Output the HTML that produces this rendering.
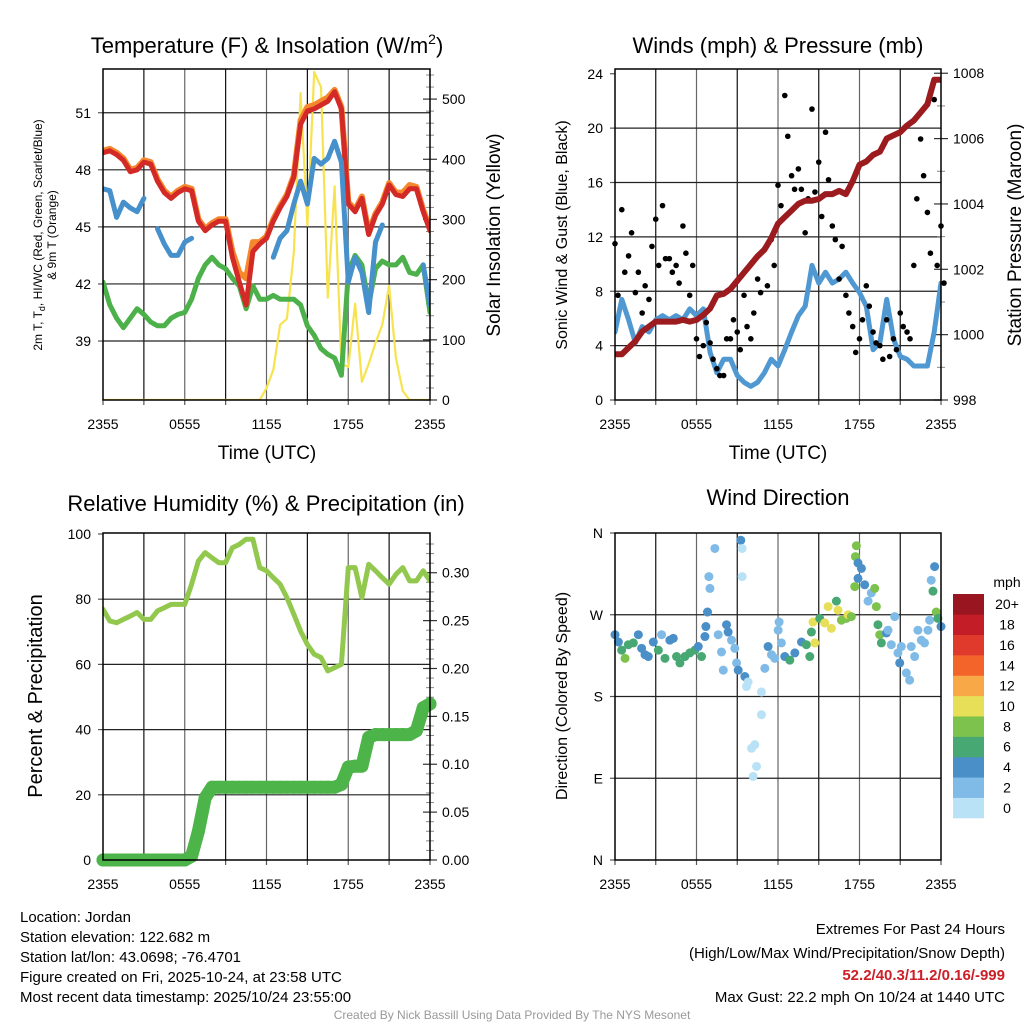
<!DOCTYPE html>
<html><head><meta charset="utf-8">
<style>
html,body{margin:0;padding:0;background:#fff;}
svg{display:block;font-family:"Liberation Sans",Arial,sans-serif;}
</style></head>
<body>
<svg id="chart" width="1024" height="1024" viewBox="0 0 1024 1024" xmlns="http://www.w3.org/2000/svg">
<rect x="0" y="0" width="1024" height="1024" fill="#fff"/>
<g id="p1"></g>
<g id="p2"></g>
<g id="p3"></g>
<g id="p4"></g>
<g id="cb"></g>

<text x="267" y="53" font-size="22" text-anchor="middle">Temperature (F) &amp; Insolation (W/m<tspan dy="-9" font-size="14">2</tspan><tspan dy="9">)</tspan></text>
<text x="778" y="53" font-size="22" text-anchor="middle">Winds (mph) &amp; Pressure (mb)</text>
<text x="266" y="511" font-size="22" text-anchor="middle">Relative Humidity (%) &amp; Precipitation (in)</text>
<text x="778" y="505" font-size="22" text-anchor="middle">Wind Direction</text>

<text transform="translate(42,235) rotate(-90)" font-size="12" text-anchor="middle">2m T, T<tspan dy="3" font-size="9">d</tspan><tspan dy="-3">, HI/WC (Red, Green, Scarlet/Blue)</tspan></text>
<text transform="translate(56,235) rotate(-90)" font-size="12" text-anchor="middle">&amp; 9m T (Orange)</text>
<text transform="translate(500,235) rotate(-90)" font-size="19" text-anchor="middle">Solar Insolation (Yellow)</text>
<text x="267" y="459" font-size="19" text-anchor="middle">Time (UTC)</text>
<text transform="translate(567,235) rotate(-90)" font-size="16" text-anchor="middle">Sonic Wind &amp; Gust (Blue, Black)</text>
<text transform="translate(1021,235) rotate(-90)" font-size="19" text-anchor="middle">Station Pressure (Maroon)</text>
<text x="778" y="459" font-size="19" text-anchor="middle">Time (UTC)</text>
<text transform="translate(42,696) rotate(-90)" font-size="20" text-anchor="middle">Percent &amp; Precipitation</text>
<text transform="translate(567,696) rotate(-90)" font-size="16" text-anchor="middle">Direction (Colored By Speed)</text>
<text x="1007" y="587" font-size="14" text-anchor="middle">mph</text>

<g font-size="15">
<text x="20" y="922">Location: Jordan</text>
<text x="20" y="942">Station elevation: 122.682 m</text>
<text x="20" y="962">Station lat/lon: 43.0698; -76.4701</text>
<text x="20" y="982">Figure created on Fri, 2025-10-24, at 23:58 UTC</text>
<text x="20" y="1002">Most recent data timestamp: 2025/10/24 23:55:00</text>
</g>
<g font-size="15" text-anchor="end">
<text x="1005" y="934">Extremes For Past 24 Hours</text>
<text x="1005" y="958">(High/Low/Max Wind/Precipitation/Snow Depth)</text>
<text x="1005" y="980" fill="#cc1f27" font-weight="bold">52.2/40.3/11.2/0.16/-999</text>
<text x="1005" y="1002">Max Gust: 22.2 mph On 10/24 at 1440 UTC</text>
</g>
<text x="512" y="1019" font-size="12" fill="#999" text-anchor="middle">Created By Nick Bassill Using Data Provided By The NYS Mesonet</text>
</svg>
<script>
// ---- data (half-hourly, index i -> hour i/2 after 2355 UTC) ----
const xTickLabels = ["2355","0555","1155","1755","2355"];
const tempRed = [48.9,49.0,48.8,48.5,47.9,48.0,48.4,48.3,47.4,46.8,46.5,46.8,47.0,46.9,45.3,44.8,45.1,45.3,45.3,43.4,42.1,40.9,43.7,44.1,44.4,45.3,46.0,46.6,47.6,50.4,51.1,51.2,51.4,51.6,52.1,51.2,46.2,45.8,46.5,44.6,45.6,46.2,47.2,46.7,46.6,47.0,47.0,45.8,44.8];
const tempOrange = [49.0,49.1,48.9,48.6,48.0,48.1,48.5,48.4,47.5,46.9,46.6,46.9,47.1,47.0,45.4,44.9,45.2,45.4,45.4,43.7,42.6,42.3,44.2,44.2,44.5,45.4,46.1,46.7,47.7,50.6,51.3,51.4,51.6,51.8,52.2,51.3,46.3,45.9,46.6,44.7,45.7,46.3,47.3,46.8,46.8,47.2,47.1,45.9,44.9];
const tempBlue = [47.0,46.9,45.5,46.3,46.0,45.8,46.5,null,44.9,44.1,43.5,43.5,44.2,44.4,null,null,43.2,null,null,null,null,null,41.2,null,null,43.4,44.4,44.8,46.2,47.4,46.2,48.6,48.3,48.6,49.5,48.4,42.1,43.4,42.6,40.5,44.2,45.1,null,null,null,null,null,43.0,40.9];
const tempGreen = [42.1,40.9,40.2,39.7,40.2,40.7,40.4,40.0,39.8,39.8,40.2,40.4,40.5,41.2,42.3,43.0,43.4,43.0,42.8,42.3,41.9,40.7,41.9,41.2,41.2,41.4,41.2,41.2,41.2,40.9,39.8,39.3,38.6,38.3,38.1,37.2,42.6,43.5,43.0,40.9,42.8,43.2,43.0,43.0,43.4,42.6,42.5,43.0,40.5];
const solar = [0,0,0,0,0,0,0,0,0,0,0,0,0,0,0,0,0,0,0,0,0,0,0,0,20,50,125,135,245,510,290,545,520,170,355,60,55,160,30,60,95,125,190,70,15,0,0,0,0];
const windSpeed = [5.0,7.4,5.9,4.2,5.4,5.0,5.9,6.2,5.9,6.2,5.9,6.7,6.2,6.7,3.5,2.0,3.0,3.0,1.8,1.3,1.0,1.3,2.0,3.0,2.5,3.7,5.0,6.2,6.9,9.9,8.6,9.4,8.6,8.9,9.4,8.6,7.9,6.9,3.7,4.2,7.4,4.5,3.2,3.0,2.5,2.5,2.5,5.0,8.6];
const gustA = [11.5,14.0,10.6,7.9,6.4,7.4,13.3,14.3,10.4,9.9,12.8,7.7,4.5,4.0,4.2,2.3,1.8,4.5,5.0,7.7,4.5,8.9,11.1,11.8,15.8,22.4,16.5,17.0,12.3,21.4,17.5,19.7,12.8,8.9,7.7,5.4,4.5,8.4,5.0,4.0,5.9,4.5,6.4,5.0,9.9,19.2,13.8,22.1,12.8];
const gustB = [7.7,9.4,12.3,9.4,8.4,11.3,9.9,10.4,9.4,8.6,10.8,9.9,3.2,5.7,3.0,1.8,4.5,5.9,3.7,5.4,6.4,7.9,8.4,9.9,14.3,19.4,15.5,15.5,14.8,15.3,13.5,16.2,11.8,11.3,6.4,3.5,5.9,6.9,4.2,3.0,3.2,3.7,5.4,4.5,14.8,16.5,10.8,9.9,8.6];
const pressure = [999.4,999.4,999.6,999.8,1000.1,1000.25,1000.4,1000.4,1000.4,1000.4,1000.45,1000.4,1000.45,1000.6,1000.8,1001.2,1001.25,1001.4,1001.65,1001.9,1002.15,1002.4,1002.6,1002.95,1003.4,1003.6,1003.8,1004.0,1004.1,1004.1,1004.15,1004.3,1004.3,1004.4,1004.3,1004.7,1005.2,1005.3,1005.5,1005.6,1006.0,1006.1,1006.2,1006.4,1006.55,1006.8,1007.05,1007.8,1007.8];
const rh = [76.9,73.3,72.8,73.8,74.8,75.9,73.8,73.8,76.4,77.4,78.4,78.4,78.4,84.6,91.7,94.3,92.7,91.2,91.2,95.8,96.8,98.4,98.4,89.7,88.7,86.6,84.6,80.5,75.4,70.2,66.1,63.1,62.1,58.0,59.0,60.0,89.7,89.7,80.5,90.7,88.7,86.6,84.6,87.6,89.7,85.6,85.6,88.7,85.6];
const precip = [0,0,0,0,0,0,0,0,0,0,0,0,0,0.004,0.03,0.065,0.076,0.076,0.076,0.076,0.076,0.076,0.076,0.076,0.076,0.076,0.076,0.076,0.076,0.076,0.076,0.076,0.076,0.076,0.076,0.079,0.097,0.098,0.098,0.128,0.131,0.131,0.131,0.131,0.131,0.131,0.135,0.159,0.163];
const dirHour = [0.0,0.25,0.49,0.74,0.98,1.35,1.72,1.96,2.21,2.45,2.82,3.19,3.43,3.68,4.04,4.29,4.53,4.78,5.15,5.51,5.88,6.13,6.37,6.62,6.69,6.81,6.91,6.99,7.35,7.60,7.84,7.97,8.21,8.33,8.58,8.82,8.95,9.07,9.26,9.36,9.36,9.56,9.68,9.80,10.05,10.29,10.42,10.17,10.78,10.78,11.03,11.27,11.52,11.76,12.01,12.08,12.25,12.50,12.87,13.24,13.73,14.09,14.34,14.46,14.58,14.71,15.07,15.44,15.69,15.93,16.30,16.42,16.67,17.03,17.16,17.40,17.77,17.70,17.89,18.14,17.89,17.65,18.38,18.63,18.87,19.12,19.24,19.36,19.49,19.61,19.98,20.10,20.34,20.59,20.83,20.96,21.08,21.45,21.69,21.81,22.06,22.30,22.55,22.79,23.04,23.16,23.28,23.41,23.53,23.65,23.77,24.0];
const dirDeg = [248,240,231,222,237,239,248,233,226,224,240,231,248,222,242,244,224,217,224,228,231,235,224,246,257,273,312,299,343,248,229,209,259,251,242,233,217,209,352,343,312,202,191,196,123,127,103,92,185,160,211,235,226,222,253,262,239,224,220,228,240,237,224,251,262,239,266,261,279,255,285,275,264,266,270,268,346,334,327,321,310,301,303,285,294,299,279,259,248,239,250,253,237,268,228,217,235,206,198,235,224,253,242,239,253,264,308,296,323,273,266,257];
const dirSpd = [4,4,6,8,6,6,4,4,4,4,4,6,3,6,4,4,6,6,6,6,6,4,6,4,4,4,2,2,2,2,2,2,4,4,2,2,2,4,4,1,1,4,1,1,1,1,1,1,1,1,2,4,2,2,2,2,2,4,6,4,4,6,6,6,10,10,6,10,10,10,6,10,8,8,10,8,8,8,4,4,4,8,4,3,3,8,8,6,8,6,4,2,2,2,2,4,2,2,2,2,2,2,2,2,2,2,2,6,4,8,6,4];
const cbLabels = ["0","2","4","6","8","10","12","14","16","18","20+"];
const cbColors = ["#b9e2f7","#7fbbe6","#4a8fc8","#48a873","#7dc24d","#e6df57","#f8a847","#f26429","#e03a2c","#c31e27","#991620"];

const NS="http://www.w3.org/2000/svg";
function mk(parent, tag, attrs){const e=document.createElementNS(NS,tag);for(const k in attrs)e.setAttribute(k,attrs[k]);parent.appendChild(e);return e;}

function makePanel(g, x0,x1,y0,y1, lmin,lmax, rmin,rmax){
  return {
    x: h => x0 + (h/24)*(x1-x0),
    yl: v => y1 - (v-lmin)/(lmax-lmin)*(y1-y0),
    yr: v => y1 - (v-rmin)/(rmax-rmin)*(y1-y0),
    x0,x1,y0,y1,g
  };
}
function grid(P, lTicks, lLabels, yf, rTicks, rLabels, rf, rMinor, hGrid){
  const g=P.g;
  // vertical grid every 3 hours
  for(let h=3;h<24;h+=3){
    const l=mk(g,'line',{x1:P.x(h),x2:P.x(h),y1:P.y0,y2:P.y1,stroke:(h%6===0)?'#666':'#111','stroke-width':1.2});
    
    
  }
  (hGrid||lTicks).forEach(v=>{
    const y=yf(v);
    const l=mk(g,'line',{x1:P.x0,x2:P.x1,y1:y,y2:y,stroke:'#222','stroke-width':1.2});
    
    
  });
  // x ticks
  for(let h=0;h<=24;h+=3){
    mk(g,'line',{x1:P.x(h),x2:P.x(h),y1:P.y1,y2:P.y1+5,stroke:'#555','stroke-width':1.2});
  }
  for(let k=0;k<xTickLabels.length;k++){
    const t=mk(g,'text',{x:P.x(k*6),y:P.y1+29,'font-size':14,'text-anchor':'middle'});
    t.textContent=xTickLabels[k];
    
    
  }
  lTicks.forEach((v,i)=>{
    const y=yf(v);
    mk(g,'line',{x1:P.x0-5,x2:P.x0,y1:y,y2:y,stroke:'#555','stroke-width':1.2});
    const t=mk(g,'text',{x:P.x0-12,y:y+5,'font-size':14,'text-anchor':'end'});
    t.textContent=lLabels[i];
    
    
  });
  if(rTicks){
    rMinor.forEach(v=>{const y=rf(v);mk(g,'line',{x1:P.x1-4,x2:P.x1+4,y1:y,y2:y,stroke:'#888','stroke-width':1});});
    rTicks.forEach((v,i)=>{
      const y=rf(v);
      mk(g,'line',{x1:P.x1-7,x2:P.x1+7,y1:y,y2:y,stroke:'#333','stroke-width':1.2});
      const t=mk(g,'text',{x:P.x1+12,y:y+5,'font-size':14,'text-anchor':'start'});
      t.textContent=rLabels[i];
      
      
    });
  }
}
function frame(P){
  const r=mk(P.g,'rect',{x:P.x0,y:P.y0,width:P.x1-P.x0,height:P.y1-P.y0,fill:'none',stroke:'#000','stroke-width':1.5});
  
  
}
function line(P, arr, yf, color, w, name, clip){
  let d='', pen=false;
  arr.forEach((v,i)=>{
    if(v===null){pen=false;return;}
    d+=(pen?'L':'M')+P.x(i/2).toFixed(1)+' '+yf(v).toFixed(1)+' ';
    pen=true;
  });
  const p=mk(P.g,'path',{d:d,fill:'none',stroke:color,'stroke-width':w,'stroke-linejoin':'round','stroke-linecap':'round'});
  if(clip)p.setAttribute('clip-path',clip);
  
  
  return p;
}
const svg=document.getElementById('chart');
const defs=mk(svg,'defs',{});
function addClip(id,P){const c=mk(defs,'clipPath',{id:id});mk(c,'rect',{x:P.x0,y:P.y0,width:P.x1-P.x0,height:P.y1-P.y0});}

// ---- Panel 1 ----
const P1=makePanel(document.getElementById('p1'),103,430,69,400,35.9,53.3,0,550);
addClip('c1',P1);
const tempTicks=[39,42,45,48,51];
grid(P1,tempTicks,tempTicks.map(String),P1.yl,[0,100,200,300,400,500],["0","100","200","300","400","500"],P1.yr,[20,40,60,80,120,140,160,180,220,240,260,280,320,340,360,380,420,440,460,480,520,540]);
line(P1,solar,P1.yr,'#f7e34f',2.2,'solar-insolation-line','url(#c1)');
line(P1,tempGreen,P1.yl,'#4cb14a',5,'dewpoint-line','url(#c1)');
line(P1,tempOrange,P1.yl,'#f5872d',6,'temp-9m-line','url(#c1)');
line(P1,tempRed,P1.yl,'#d42a27',5,'temp-2m-line','url(#c1)');
line(P1,tempBlue,P1.yl,'#4690cc',5,'heat-index-windchill-line','url(#c1)');
frame(P1);

// ---- Panel 2 ----
const P2=makePanel(document.getElementById('p2'),615,941,69,400,0,24.35,998,1008.13);
addClip('c2',P2);
const windTicks=[0,4,8,12,16,20,24];
const presTicks=[998,1000,1002,1004,1006,1008];
grid(P2,windTicks,windTicks.map(String),P2.yl,presTicks,presTicks.map(String),P2.yr,[999,1001,1003,1005,1007],[4,8,12,16,20]);
line(P2,windSpeed,P2.yl,'#5098d2',5,'sonic-wind-line','url(#c2)');
[gustA,gustB].forEach((arr,k)=>{
  arr.forEach((v,i)=>{
    const c=mk(P2.g,'circle',{cx:P2.x(i/2+(k?0.22:0)),cy:P2.yl(v),r:2.8,fill:'#000'});
    
    
  });
});
line(P2,pressure,P2.yr,'#9b1b1e',6,'pressure-line','url(#c2)');
frame(P2);

// ---- Panel 3 ----
const P3=makePanel(document.getElementById('p3'),103,430,533,860,0,100.3,0,0.3415);
addClip('c3',P3);
const rhTicks=[0,20,40,60,80,100];
const prTicks=[0,0.05,0.10,0.15,0.20,0.25,0.30];
const prMinor=[];for(let k=1;k<34;k++){if(k%5)prMinor.push(k/100);}
grid(P3,rhTicks,rhTicks.map(String),P3.yl,prTicks,prTicks.map(v=>v.toFixed(2)),P3.yr,prMinor,[20,40,60,80]);
line(P3,rh,P3.yl,'#92c84e',5,'humidity-line','url(#c3)');
line(P3,precip,P3.yr,'#4cb448',13,'precipitation-line');
precip.forEach((v,i)=>{
  const c=mk(P3.g,'circle',{cx:P3.x(i/2),cy:P3.yr(v),r:6.5,fill:'#4cb448'});
  
  
});
frame(P3);

// ---- Panel 4 ----
const P4=makePanel(document.getElementById('p4'),615,941,533,860,0,360,0,1);
const dirTicks=[0,90,180,270,360];
grid(P4,dirTicks,["N","E","S","W","N"],P4.yl,null,null,null,null,[90,180,270]);
dirHour.forEach((h,i)=>{
  const box=Math.min(10,Math.floor(dirSpd[i]/2));
  const c=mk(P4.g,'circle',{cx:P4.x(h),cy:P4.yl(dirDeg[i]),r:4.5,fill:cbColors[box]});
  
  
});
frame(P4);

// ---- colorbar ----
const cb=document.getElementById('cb');
const cbTop=594, cbBot=818, cbH=(cbBot-cbTop)/cbColors.length;
cbColors.forEach((col,k)=>{
  const y=cbBot-(k+1)*cbH;
  const r=mk(cb,'rect',{x:953,y:y,width:31,height:cbH+0.3,fill:col});
  
  
  const t=mk(cb,'text',{x:1007,y:y+cbH/2+5,'font-size':14,'text-anchor':'middle'});
  t.textContent=cbLabels[k];
  
  
});
</script>
</body></html>
